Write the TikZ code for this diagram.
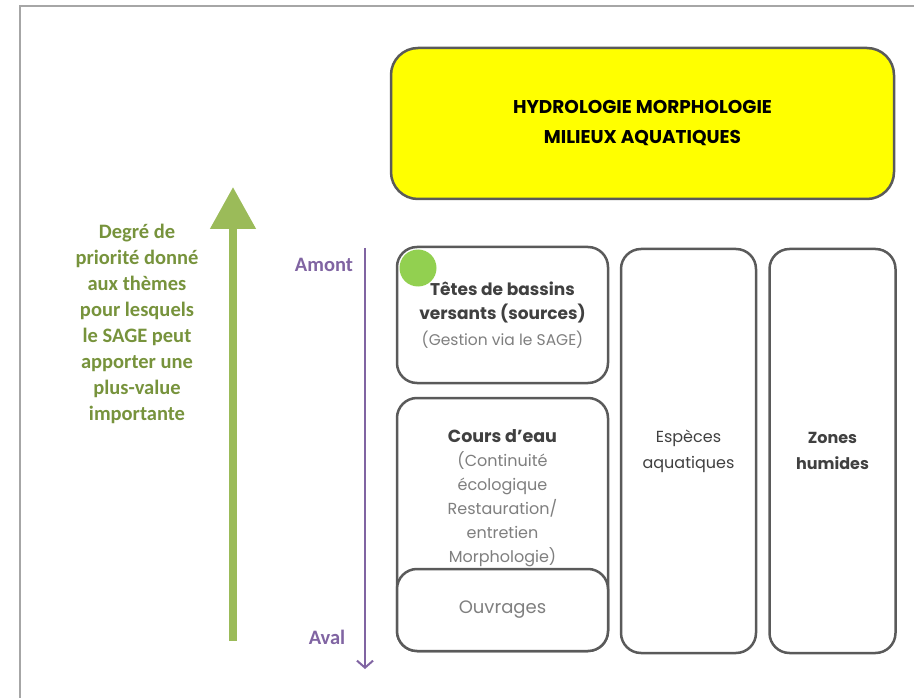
\documentclass[tikz,border=0pt]{standalone}
\usepackage{fontspec}
\setmainfont{Poppins}
\newfontfamily\calibri{Carlito}
\usepackage{tikz}
\usetikzlibrary{positioning}
\usetikzlibrary{arrows.meta}

\definecolor{jaune}{HTML}{FFFF00}
\definecolor{cadre}{HTML}{5A5A5A}
\definecolor{bord}{HTML}{A6A6A6}
\definecolor{texte}{HTML}{404040}
\definecolor{texteclair}{HTML}{7F7F7F}
\definecolor{olive}{HTML}{77933C}
\definecolor{vertfleche}{HTML}{9BBB59}
\definecolor{pastillevert}{HTML}{92D050}
\definecolor{violet}{HTML}{8064A2}

\begin{document}
\begin{tikzpicture}[x=1pt,y=-1pt,every node/.style={align=center},
    theme/.style={draw=cadre,line width=2.5pt,rounded corners=20pt,fill=white,inner sep=0pt,
        text=texte,font=\fontsize{16}{26}\selectfont},
    titre/.style={theme,fill=jaune,rounded corners=27pt,text=black,font=\fontsize{18.5}{30}\selectfont\bfseries},
    detail/.style={text=texteclair,font=\fontsize{16}{24}\selectfont},
    lbl/.style={font=\calibri\fontsize{20.5}{26}\selectfont\bfseries}]
\useasboundingbox (0,0) rectangle (914,698);
\draw[bord,line width=1.5pt] (20,698) -- (20,6) -- (914,6);

% bandeau du haut
\node[titre,minimum width=503pt,minimum height=151pt] (hmma) at (642.5,123.5)
    {HYDROLOGIE MORPHOLOGIE\\MILIEUX AQUATIQUES};

% colonnes
\node[theme,minimum width=211pt,minimum height=136pt,font=\fontsize{17}{24}\selectfont] (tetes) at (502.5,315)
    {\bfseries T\^etes de bassins\\ \bfseries versants (sources)\\[2pt]
     {\color{texteclair}\fontsize{15.5}{20}\selectfont (Gestion via le SAGE)}};
\node[theme,minimum width=211pt,minimum height=253pt] (cours) at (502.5,524.5) {};
\node[detail] (coursTxt) at (502.5,498)
    {{\bfseries\color{texte}\fontsize{17.5}{24}\selectfont Cours d'eau}\\
     (Continuit\'e\\ \'ecologique\\ Restauration/\\ entretien\\ Morphologie)};
\node[theme,minimum width=211pt,minimum height=82pt,text=texteclair,font=\fontsize{18}{24}\selectfont] (ouvrages) at (502.5,610) {Ouvrages};
\node[theme,minimum width=135pt,minimum height=404pt] (especes) at (688.5,451) {Esp\`eces\\aquatiques};
\node[theme,minimum width=126pt,minimum height=404pt,right=11pt of especes] (zones) {\bfseries Zones\\ \bfseries humides};
\node[circle,fill=pastillevert,minimum size=37pt,inner sep=0pt] (pastille) at (418,268) {};

% axe amont / aval
\node[lbl,text=violet] (amont) at (324,265) {Amont};
\node[lbl,text=violet] (aval) at (327,637) {Aval};
\coordinate (hautAxe) at (365,248);
\coordinate (basAxe) at (365,669);
\draw[violet,line width=2pt,-{Straight Barb[length=7pt,width=16pt]}] (hautAxe) -- (basAxe);

% priorite
\coordinate (basPrio) at (233,641);
\coordinate (hautPrio) at (233,187);
\draw[vertfleche,line width=8pt,-{Triangle[length=42pt,width=44pt]}] (basPrio) -- (hautPrio);
\node[lbl,text=olive] (prio) at (137,324)
    {Degr\'e de\\priorit\'e donn\'e\\aux th\`emes\\pour lesquels\\le SAGE peut\\apporter une\\plus-value\\importante};
\end{tikzpicture}
\end{document}
